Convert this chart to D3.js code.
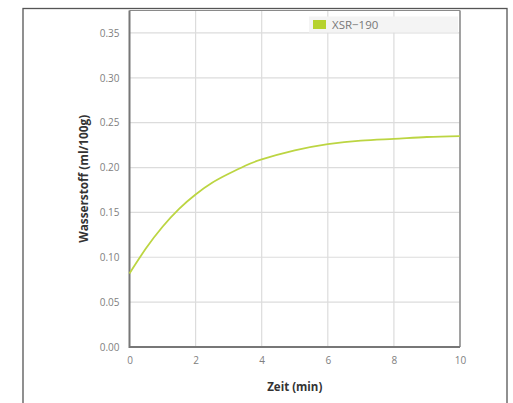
<!DOCTYPE html>
<html><head><meta charset="utf-8">
<script src="https://cdn.jsdelivr.net/npm/d3@7"></script>
<style>html,body{margin:0;padding:0;background:#fff;}svg{display:block;}</style>
</head><body>
<svg id="c" width="513" height="403"></svg>
<script>
const timeMin = [0, 0.5, 1, 1.5, 2, 2.5, 3, 3.5, 4, 5, 6, 7, 8, 9, 10];
const hydrogen = [0.082, 0.110, 0.134, 0.154, 0.170, 0.183, 0.193, 0.202, 0.209, 0.219, 0.226, 0.230, 0.232, 0.234, 0.235];
const xTicks = [0, 2, 4, 6, 8, 10];
const yTicks = [0, 0.05, 0.10, 0.15, 0.20, 0.25, 0.30, 0.35];
const seriesName = "XSR\u2212190";
const xTitle = "Zeit (min)";
const yTitle = "Wasserstoff (ml/100g)";

const svg = d3.select("#c");
const font = "'Open Sans', sans-serif";
const L = 129.5, R = 460, T = 10.5, B = 347;

// outer frame
svg.append("rect").attr("x", 23).attr("y", 8.5).attr("width", 484).attr("height", 420)
  .attr("fill", "none").attr("stroke", "#555").attr("stroke-width", 1.3);

const x = d3.scaleLinear().domain([0, 10]).range([L, R]);
const y = d3.scaleLinear().domain([0, 0.375]).range([B, T]);

// grid
const g = svg.append("g");
g.selectAll(".vg").data(xTicks.slice(1)).join("line")
  .attr("x1", d => x(d)).attr("x2", d => x(d)).attr("y1", T).attr("y2", B)
  .attr("stroke", "#dcdcdc").attr("stroke-width", 1.2);
g.selectAll(".hg").data(yTicks.slice(1)).join("line")
  .attr("x1", L).attr("x2", R).attr("y1", d => y(d)).attr("y2", d => y(d))
  .attr("stroke", "#dcdcdc").attr("stroke-width", 1.2);

// plot border top/right
svg.append("line").attr("x1", L).attr("x2", R).attr("y1", T).attr("y2", T).attr("stroke", "#8a8a8a").attr("stroke-width", 1.2);
svg.append("line").attr("x1", R).attr("x2", R).attr("y1", T).attr("y2", B).attr("stroke", "#8a8a8a").attr("stroke-width", 1.5);

// axes
const xAxis = d3.axisBottom(x).tickValues(xTicks).tickSize(0).tickPadding(10).tickFormat(d3.format("d"));
const yAxis = d3.axisLeft(y).tickValues(yTicks).tickSize(0).tickPadding(10).tickFormat(d3.format(".2f"));
const xa = svg.append("g").attr("transform", `translate(0,${B})`).call(xAxis);
const ya = svg.append("g").attr("transform", `translate(${L},0)`).call(yAxis);
[xa, ya].forEach(a => {
  a.select(".domain").remove();
  a.selectAll("text").attr("fill", "#808080").style("font-family", font).style("font-size", "10px");
});
svg.append("line").attr("x1", L).attr("x2", R).attr("y1", B).attr("y2", B).attr("stroke", "#777").attr("stroke-width", 2);
svg.append("line").attr("x1", L).attr("x2", L).attr("y1", T).attr("y2", B + 1).attr("stroke", "#777").attr("stroke-width", 2);

// line
const line = d3.line().x((d, i) => x(timeMin[i])).y(d => y(d)).curve(d3.curveNatural);
svg.append("path").datum(hydrogen).attr("d", line)
  .attr("fill", "none").attr("stroke", "#bcd542").attr("stroke-width", 1.8);

// legend
svg.append("rect").attr("x", 309).attr("y", 16.5).attr("width", 149).attr("height", 16).attr("fill", "#f4f4f4");
svg.append("rect").attr("x", 313).attr("y", 20).attr("width", 13).attr("height", 9).attr("fill", "#b6d22e");
svg.append("text").attr("x", 332).attr("y", 28.5).text(seriesName)
  .attr("fill", "#777").style("font-family", font).style("font-size", "11.5px");

// titles
svg.append("text").attr("x", (L + R) / 2).attr("y", 391).attr("text-anchor", "middle").text(xTitle)
  .attr("fill", "#333").style("font-family", font).style("font-size", "11.5px").style("font-weight", "bold");
svg.append("text").attr("transform", `translate(88,${(T + B) / 2}) rotate(-90)`).attr("text-anchor", "middle").text(yTitle)
  .attr("fill", "#333").style("font-family", font).style("font-size", "11.8px").style("font-weight", "bold");
</script>
</body></html>
